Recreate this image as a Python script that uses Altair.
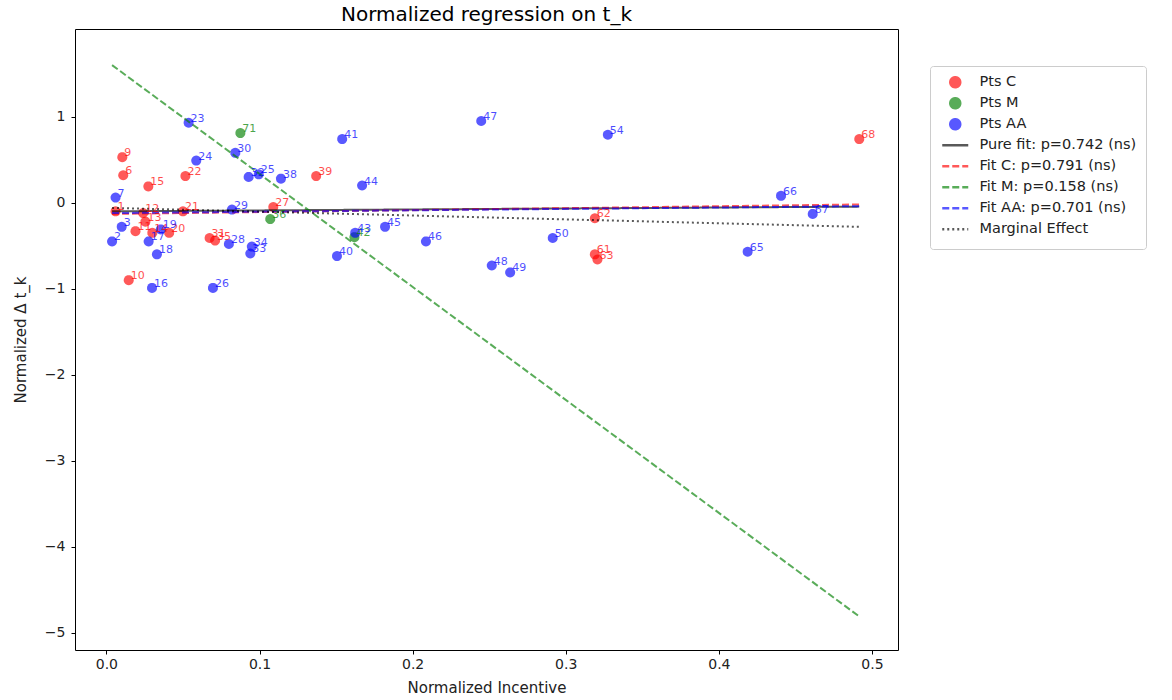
import math
import altair as alt
import pandas as pd

# ---------------- data ----------------
c_x = [0.0104, 0.011, 0.0274, 0.0516, 0.137, 0.109, 0.0674, 0.071, 0.0146, 0.019, 0.0255, 0.030, 0.041,
       0.319, 0.3207, 0.319, 0.4917, 0.006, 0.024, 0.050]
c_y = [0.53, 0.32, 0.19, 0.31, 0.31, -0.05, -0.41, -0.44, -0.90, -0.33, -0.22, -0.35, -0.35,
       -0.60, -0.66, -0.18, 0.74, -0.10, -0.12, -0.10]
c_lab = ["9", "6", "15", "22", "39", "27", "31", "35", "10", "11", "13", "14", "20",
         "61", "63", "62", "68", "1", "12", "21"]

m_x = [0.0875, 0.107, 0.162]
m_y = [0.81, -0.19, -0.40]
m_lab = ["71", "36", "42"]

aa_x = [0.0537, 0.0842, 0.0587, 0.0929, 0.0995, 0.114, 0.154, 0.167, 0.082, 0.080, 0.095, 0.094,
        0.0696, 0.1625, 0.1506, 0.182, 0.2448, 0.3275, 0.2087, 0.2517, 0.2637, 0.2915, 0.4406,
        0.4613, 0.4188, 0.006, 0.010, 0.0037, 0.0276, 0.0355, 0.033, 0.0298]
aa_y = [0.93, 0.58, 0.49, 0.30, 0.33, 0.28, 0.74, 0.20, -0.08, -0.48, -0.51, -0.59,
        -0.99, -0.35, -0.62, -0.28, 0.95, 0.79, -0.45, -0.73, -0.81, -0.41, 0.08,
        -0.13, -0.57, 0.06, -0.28, -0.45, -0.45, -0.31, -0.60, -0.99]
aa_lab = ["23", "30", "24", "32", "25", "38", "41", "44", "29", "28", "34", "33",
          "26", "43", "40", "45", "47", "54", "46", "48", "49", "50", "66",
          "67", "65", "7", "3", "2", "17", "19", "18", "16"]

line_x = [0.0037, 0.4917]
pure_y = [-0.10, -0.045]
fitc_y = [-0.13, -0.02]
fitm_y = [1.60, -4.81]
fitaa_y = [-0.12, -0.04]
marg_y = [-0.06, -0.28]

series = ["Pts C", "Pts M", "Pts AA",
          "Pure fit: p=0.742 (ns)", "Fit C: p=0.791 (ns)", "Fit M: p=0.158 (ns)",
          "Fit AA: p=0.701 (ns)", "Marginal Effect"]

x_ticks = [0.0, 0.1, 0.2, 0.3, 0.4, 0.5]
y_ticks = [-5, -4, -3, -2, -1, 0, 1]

# ---------------- tables ----------------
pts = pd.concat([
    pd.DataFrame({"x": c_x, "y": c_y, "label": c_lab, "series": series[0]}),
    pd.DataFrame({"x": m_x, "y": m_y, "label": m_lab, "series": series[1]}),
    pd.DataFrame({"x": aa_x, "y": aa_y, "label": aa_lab, "series": series[2]}),
], ignore_index=True)

lines = pd.concat([
    pd.DataFrame({"x": line_x, "y": yy, "series": s})
    for yy, s in zip([pure_y, fitc_y, fitm_y, fitaa_y, marg_y], series[3:])
], ignore_index=True)

# ---------------- marker shapes ----------------
FONT = "DejaVu Sans"
CIRCLE = "M" + "L".join(
    f"{math.cos(2 * math.pi * k / 24):.3f},{math.sin(2 * math.pi * k / 24):.3f}" for k in range(24)
) + "Z"
# legend line sample; the extra move-to points give it the same height as the round marker
DASH = "M-2.6,-1M-2.6,0L2.6,0M2.6,1"

colors = ["red", "green", "blue", "black", "red", "green", "blue", "black"]
color_scale = alt.Scale(domain=series, range=colors)
shape_scale = alt.Scale(domain=series, range=[CIRCLE] * 3 + [DASH] * 5)
dash_scale = alt.Scale(domain=series, range=[[1, 0]] * 4 + [[7, 3]] * 3 + [[2, 3]])
opacity_scale = alt.Scale(domain=series, range=[0.65] * 3 + [1] * 5)

leg = alt.Legend(title=None, orient="none", legendX=855, legendY=37)

xs = alt.X("x:Q", title="Normalized Incentive",
           scale=alt.Scale(domain=[-0.0205, 0.517], nice=False, zero=False),
           axis=alt.Axis(values=x_ticks, format=".1f", labelPadding=3, titlePadding=9))
ys = alt.Y("y:Q", title="Normalized \u0394 t_k",
           scale=alt.Scale(domain=[-5.2, 2.02], nice=False, zero=False),
           axis=alt.Axis(values=y_ticks, format="d", labelPadding=6, titlePadding=16))

points = alt.Chart(pts).mark_point(filled=True, size=100).encode(
    x=xs, y=ys,
    color=alt.Color("series:N", scale=color_scale, legend=leg),
    shape=alt.Shape("series:N", scale=shape_scale, legend=leg),
    opacity=alt.Opacity("series:N", scale=opacity_scale, legend=leg),
)

fit_lines = alt.Chart(lines).mark_line(strokeWidth=2).encode(
    x=xs, y=ys,
    color=alt.Color("series:N", scale=color_scale, legend=leg),
    strokeDash=alt.StrokeDash("series:N", scale=dash_scale, legend=leg),
    opacity=alt.Opacity("series:N", scale=opacity_scale, legend=leg),
    detail="series:N",
)

text_layers = []
for s, col in zip(series[:3], ["red", "green", "blue"]):
    text_layers.append(
        alt.Chart(pts).transform_filter(alt.datum.series == s).mark_text(
            align="left", baseline="alphabetic", dx=2, dy=-1, fontSize=11,
            font=FONT, color=col, opacity=0.7
        ).encode(x=xs, y=ys, text="label:N")
    )

chart = alt.layer(points, fit_lines, *text_layers).properties(
    width=823, height=621,
    title=alt.TitleParams("Normalized regression on t_k", fontSize=20, font=FONT,
                          fontWeight="normal", color="black", offset=4),
    autosize=alt.AutoSizeParams(type="none"),
    padding={"left": 75, "top": 29, "right": 274, "bottom": 50},
).configure_view(
    stroke="black", strokeWidth=1
).configure_axis(
    grid=False, domain=False, tickColor="black", tickSize=4,
    labelFont=FONT, labelFontSize=14, labelColor="#222",
    titleFont=FONT, titleFontSize=15, titleFontWeight="normal", titleColor="#222",
).configure_legend(
    labelFont=FONT, labelFontSize=14.5, labelColor="#222",
    fillColor="white", strokeColor="#cccccc", cornerRadius=3, padding=9,
    rowPadding=0, symbolOffset=9, labelOffset=17, symbolStrokeWidth=2.5,
    symbolSize=100, labelLimit=300,
)

chart.save("out.html", embed_options={"renderer": "svg", "actions": False})
